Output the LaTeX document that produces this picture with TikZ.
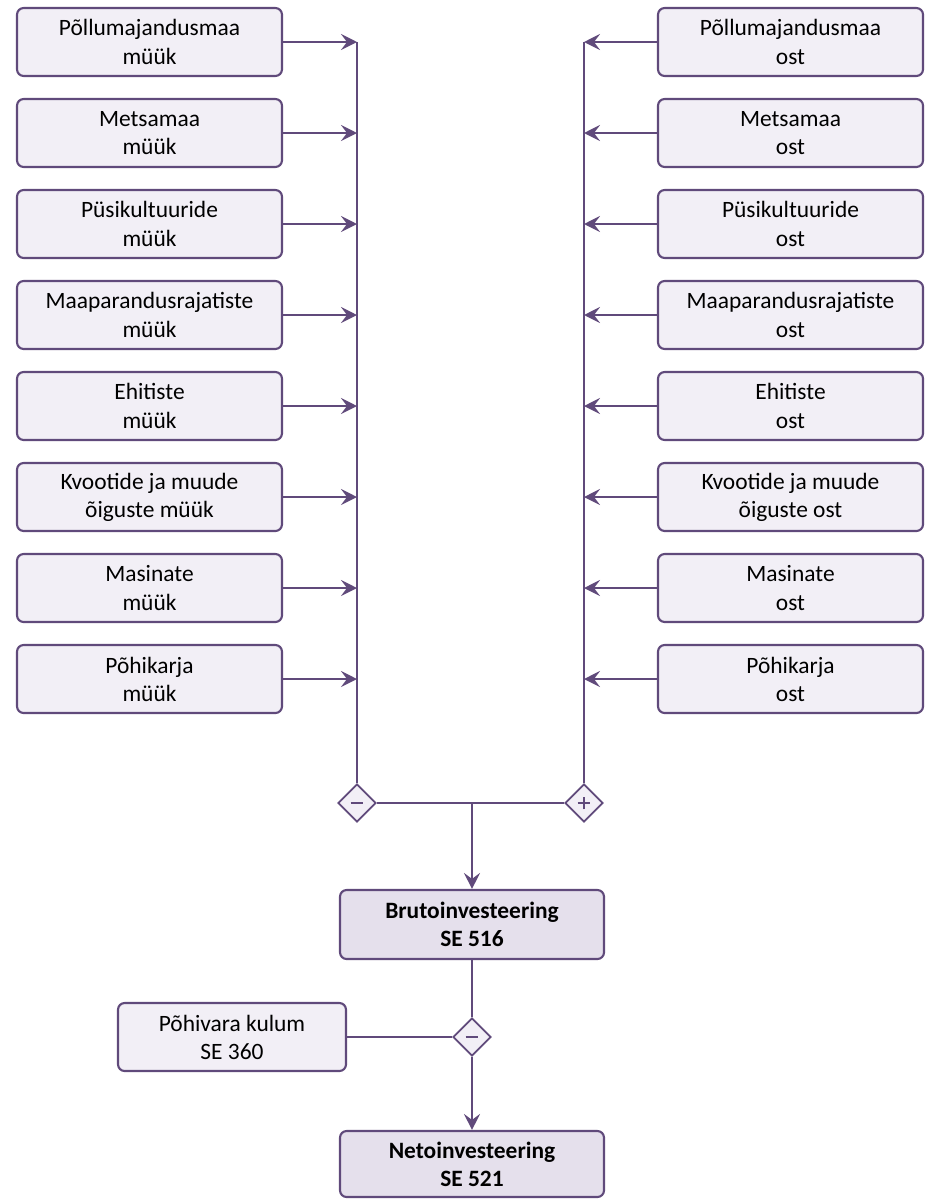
\documentclass[tikz,border=0pt]{standalone}
\usepackage{fontspec}
\setmainfont{Carlito}
\usepackage{tikz}
\usetikzlibrary{arrows.meta,shapes.geometric,positioning,calc}
\definecolor{invpurple}{HTML}{604A7B}
\definecolor{invlight}{HTML}{F2EFF6}
\definecolor{invlav}{HTML}{E5E0EC}

\begin{document}
\begin{tikzpicture}[x=0.03cm,y=-0.03cm,
    itembox/.style={draw=invpurple,line width=1.8pt,fill=invlight,rounded corners=0.2cm,
      minimum width=7.95cm,minimum height=2.04cm,align=center,inner sep=0pt,
      font=\fontsize{20}{24}\selectfont},
    sumbox/.style={itembox,fill=invlav,font=\fontsize{20}{24}\selectfont\bfseries},
    opdiamond/.style={diamond,draw=invpurple,line width=1.6pt,fill=invlight,inner sep=0pt,
      minimum width=1.14cm,minimum height=1.14cm},
    minussign/.style={opdiamond,path picture={
      \draw[invpurple,line width=2.4pt] ($(path picture bounding box.center)+(-0.19cm,0)$)
        -- ($(path picture bounding box.center)+(0.19cm,0)$);}},
    plussign/.style={opdiamond,path picture={
      \draw[invpurple,line width=2.4pt] ($(path picture bounding box.center)+(-0.19cm,0)$)
        -- ($(path picture bounding box.center)+(0.19cm,0)$);
      \draw[invpurple,line width=2.4pt] ($(path picture bounding box.center)+(0,-0.19cm)$)
        -- ($(path picture bounding box.center)+(0,0.19cm)$);}},
    flow/.style={draw=invpurple,line width=2.2pt,
      -{Stealth[length=0.48cm,width=0.48cm,inset=0.18cm]}},
    plain/.style={draw=invpurple,line width=2pt},
    thin/.style={draw=invpurple,line width=1.3pt}]

  \useasboundingbox (0,0) rectangle (932,1199);

  % Müük ja ost
  \foreach \i/\a/\b in {1/Põllumajandusmaa/müük, 2/Metsamaa/müük, 3/Püsikultuuride/müük,
      4/Maaparandusrajatiste/müük, 5/Ehitiste/müük, 6/Kvootide ja muude/õiguste müük,
      7/Masinate/müük, 8/Põhikarja/müük} {
    \pgfmathsetmacro{\yy}{42 + (\i-1)*91}
    \node[itembox] (l\i) at (149.5,\yy) {\a\\\b};
    \coordinate (lj\i) at (357,\yy);
    \draw[flow] (l\i) -- (lj\i);
  }
  \foreach \i/\a/\b in {1/Põllumajandusmaa/ost, 2/Metsamaa/ost, 3/Püsikultuuride/ost,
      4/Maaparandusrajatiste/ost, 5/Ehitiste/ost, 6/Kvootide ja muude/õiguste ost,
      7/Masinate/ost, 8/Põhikarja/ost} {
    \pgfmathsetmacro{\yy}{42 + (\i-1)*91}
    \node[itembox] (r\i) at (790.5,\yy) {\a\\\b};
    \coordinate (rj\i) at (584,\yy);
    \draw[flow] (r\i) -- (rj\i);
  }

  % Märgid
  \node[minussign] (dminus) at (357,803) {};
  \node[plussign] (dplus) at (584,803) {};
  \coordinate (mid) at (472,803);

  \draw[plain] (lj1) -- (dminus.north);
  \draw[plain] (rj1) -- (dplus.north);
  \draw[plain] (dminus.east) -- (dplus.west);

  % Brutoinvesteering
  \node[sumbox,minimum width=7.92cm,minimum height=2.07cm] (bruto) at (472,924.5)
       {Brutoinvesteering\\SE 516};
  \draw[flow] (mid) -- (bruto.north);

  % Netoinvesteering
  \node[minussign] (dnet) at (472,1037) {};
  \node[itembox,minimum width=6.84cm] (kulum) at (232,1037) {Põhivara kulum\\SE 360};
  \node[sumbox,minimum width=7.92cm,minimum height=1.98cm] (neto) at (472,1164)
       {Netoinvesteering\\SE 521};
  \draw[thin] (bruto.south) -- (dnet.north);
  \draw[thin] (kulum.east) -- (dnet.west);
  \draw[flow] (dnet.south) -- (neto.north);

\end{tikzpicture}
\end{document}
